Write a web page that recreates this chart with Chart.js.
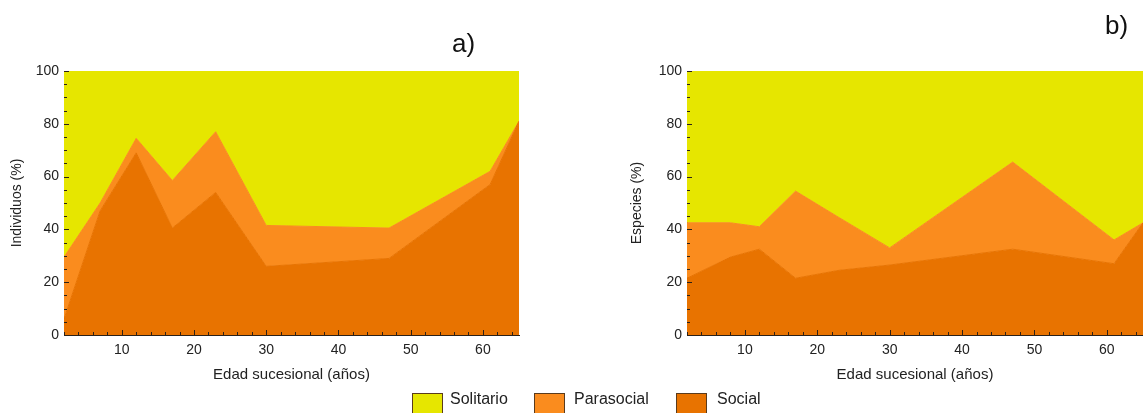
<!DOCTYPE html>
<html>
<head>
<meta charset="utf-8">
<script src="https://cdn.jsdelivr.net/npm/chart.js@4.4.0/dist/chart.umd.min.js"></script>
<style>
  body { margin: 0; background: #fff; width: 1143px; height: 413px; overflow: hidden; position: relative;
         font-family: "Liberation Sans", Arial, sans-serif; }
  .panel { position: absolute; top: 0; }
  .tag { position: absolute; font-size: 26px; color: #111; line-height: 1; }
  .key { position: absolute; top: 393px; width: 31px; height: 24px; border: 1px solid #5a3b1c; box-sizing: border-box; }
  .keytxt { position: absolute; top: 391px; font-size: 16px; color: #222; line-height: 1; }
</style>
</head>
<body>
<div class="panel" style="left:0;width:560px;height:413px;"><canvas id="chartA" width="560" height="413"></canvas></div>
<div class="panel" style="left:620px;width:523px;height:413px;"><canvas id="chartB" width="523" height="413"></canvas></div>

<div class="tag" style="left:452px;top:30px;">a)</div>
<div class="tag" style="left:1105px;top:12px;">b)</div>

<div class="key" style="left:412px;background:#e6e600;"></div>
<div class="keytxt" style="left:450px;">Solitario</div>
<div class="key" style="left:534px;background:#fa8c1e;"></div>
<div class="keytxt" style="left:574px;">Parasocial</div>
<div class="key" style="left:676px;background:#e87300;"></div>
<div class="keytxt" style="left:717px;">Social</div>

<script>
// Sampled successional ages (years) and percentage share of each guild
const edadesA = [2, 7, 12, 17, 23, 30, 47, 61, 65];
const socialA = [6, 47, 69, 40.5, 54, 26, 29, 57, 81];
const parasocialA = [23.5, 3, 5.5, 18, 23, 15.5, 11.5, 5, 0];
const solitarioA = [70.5, 50, 25.5, 41.5, 23, 58.5, 59.5, 38, 19];

const edadesB = [2, 8, 12, 17, 23, 30, 47, 61, 65];
const socialB = [21.5, 29.5, 32.5, 21.5, 24.5, 26.5, 32.5, 27, 42.5];
const parasocialB = [21, 13, 8.5, 33, 20, 6.5, 33, 9, 0];
const solitarioB = [57.5, 57.5, 59, 45.5, 55.5, 67, 34.5, 64, 57.5];

const xTickValues = [10, 20, 30, 40, 50, 60];
const yTickValues = [0, 20, 40, 60, 80, 100];

const colSolitario = '#e6e600';
const colParasocial = '#fa8c1e';
const colSocial = '#e87300';
const axisColor = '#2b2118';
const FONT = '"Liberation Sans", Arial, sans-serif';

const pts = (xs, ys) => xs.map((x, i) => ({ x, y: ys[i] }));

// Small inward tick marks along both axes (majors longer)
const tickMarks = {
  id: 'tickMarks',
  afterDraw(chart) {
    const { ctx, chartArea: a, scales: { x, y } } = chart;
    ctx.save();
    ctx.strokeStyle = axisColor;
    ctx.lineWidth = 1;
    ctx.beginPath();
    for (let v = Math.ceil(x.min / 2) * 2; v <= x.max; v += 2) {
      const px = Math.round(x.getPixelForValue(v)) + 0.5;
      const len = v % 10 === 0 ? 5 : 3;
      ctx.moveTo(px, a.bottom);
      ctx.lineTo(px, a.bottom - len);
    }
    for (let v = y.min; v <= y.max; v += 5) {
      const py = Math.round(y.getPixelForValue(v)) + 0.5;
      const len = v % 20 === 0 ? 5 : 3;
      ctx.moveTo(a.left, py);
      ctx.lineTo(a.left + len, py);
    }
    ctx.stroke();
    ctx.restore();
  }
};

function makeChart(id, edades, social, parasocial, solitario, yTitle, yWidth, rightPad) {
  const ds = (label, vals, color, fill) => ({
    label, data: pts(edades, vals), fill,
    backgroundColor: color, borderColor: color, borderWidth: 1,
    pointRadius: 0, tension: 0
  });
  return new Chart(document.getElementById(id), {
    type: 'line',
    data: {
      datasets: [
        ds('Social', social, colSocial, 'origin'),
        ds('Parasocial', parasocial, colParasocial, '-1'),
        ds('Solitario', solitario, colSolitario, '-1')
      ]
    },
    options: {
      responsive: false,
      animation: false,
      devicePixelRatio: 1,
      layout: { padding: { top: 71, right: rightPad, left: 0, bottom: 0 } },
      plugins: { legend: { display: false }, tooltip: { enabled: false } },
      scales: {
        x: {
          type: 'linear', min: 2, max: 65,
          afterBuildTicks: s => { s.ticks = xTickValues.map(v => ({ value: v })); },
          afterFit: s => { s.height = 78; },
          grid: { display: false, drawTicks: false },
          border: { display: true, color: axisColor, width: 1 },
          ticks: { padding: 7, color: '#222', font: { family: FONT, size: 14 } },
          title: { display: true, text: 'Edad sucesional (años)', color: '#222',
                   font: { family: FONT, size: 15 }, padding: { top: 0, bottom: 29 } }
        },
        y: {
          stacked: true, min: 0, max: 100,
          afterBuildTicks: s => { s.ticks = yTickValues.map(v => ({ value: v })); },
          afterFit: s => { s.width = yWidth; },
          grid: { display: false, drawTicks: false },
          border: { display: true, color: axisColor, width: 1 },
          ticks: { padding: 5, color: '#222', font: { family: FONT, size: 14 } },
          title: { display: true, text: yTitle, color: '#222',
                   font: { family: FONT, size: 14 }, padding: { top: 9, bottom: 0 } }
        }
      }
    },
    plugins: [tickMarks]
  });
}

makeChart('chartA', edadesA, socialA, parasocialA, solitarioA, 'Individuos (%)', 64, 41);
makeChart('chartB', edadesB, socialB, parasocialB, solitarioB, 'Especies (%)', 67, 0);
</script>
</body>
</html>
